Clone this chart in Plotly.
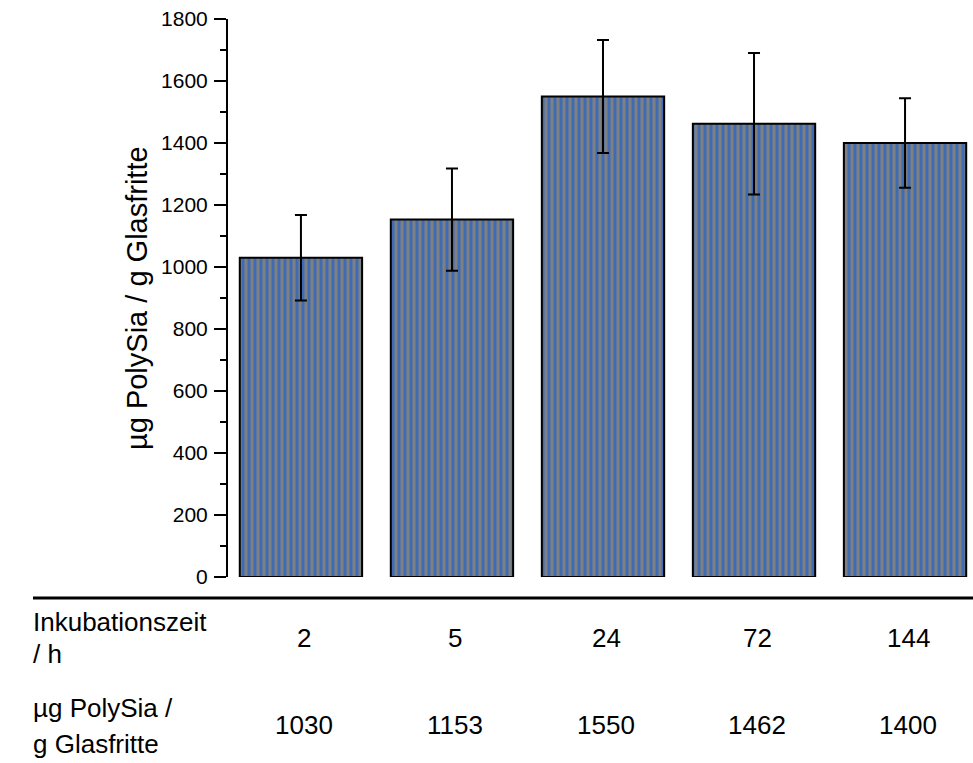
import plotly.graph_objects as go

categories = ["2", "5", "24", "72", "144"]
values = [1030, 1153, 1550, 1462, 1400]
errors = [138, 165, 182, 228, 144]
row1_lines = ["Inkubationszeit", "/ h"]
row2_lines = ["µg PolySia /", "g Glasfritte"]
y_title = "µg PolySia / g Glasfritte"
y_ticks = [0, 200, 400, 600, 800, 1000, 1200, 1400, 1600, 1800]

FONT = "Liberation Sans, Arial, Helvetica, sans-serif"
BLUE = "#3d6cb4"
GRAY = "#808080"

fig = go.Figure()
fig.add_trace(go.Bar(
    x=categories, y=values, width=0.81,
    marker=dict(color=GRAY, line=dict(color="black", width=2),
                pattern=dict(shape="|", fgcolor=BLUE, bgcolor=GRAY, size=6, solidity=0.5, fillmode="replace")),
    error_y=dict(type="data", array=errors, visible=True, color="black", thickness=2, width=6),
    showlegend=False,
))

L, R, T, B = 228, 0, 19, 186
W, H = 973, 763
pw = W - L - R
ph = H - T - B

def py2paper(py):
    return (H - B - py) / ph

def px2paper(px):
    return (px - L) / pw

TFS = 26
annotations = []
for txt, py in zip(row1_lines + row2_lines, [622, 654, 708, 744]):
    annotations.append(dict(text=txt, xref="paper", yref="paper", x=px2paper(31), y=py2paper(py),
                            xanchor="left", yanchor="middle", align="left", showarrow=False,
                            font=dict(size=TFS, color="black", family=FONT)))
for i, (c, v) in enumerate(zip(categories, values)):
    annotations.append(dict(text=c, xref="x", yref="paper", x=i + 0.02, y=py2paper(638),
                            xanchor="center", yanchor="middle", showarrow=False,
                            font=dict(size=TFS, color="black", family=FONT)))
    annotations.append(dict(text=str(v), xref="x", yref="paper", x=i + 0.02, y=py2paper(725),
                            xanchor="center", yanchor="middle", showarrow=False,
                            font=dict(size=TFS, color="black", family=FONT)))
annotations.append(dict(text=y_title, xref="paper", yref="paper", x=px2paper(137), y=py2paper(298),
                        xanchor="center", yanchor="middle", textangle=-90, showarrow=False,
                        font=dict(size=29, color="black", family=FONT)))

fig.update_layout(
    width=W, height=H,
    margin=dict(l=L, r=R, t=T, b=B, pad=0),
    paper_bgcolor="white", plot_bgcolor="white",
    font=dict(family=FONT, size=21, color="black"),
    annotations=annotations,
    shapes=[dict(type="line", xref="paper", yref="paper", x0=px2paper(33), x1=1.0,
                 y0=py2paper(598), y1=py2paper(598), line=dict(color="black", width=3))],
)
fig.update_xaxes(type="category", range=[-0.483, 4.45], showticklabels=False, showline=False,
                 showgrid=False, zeroline=False, ticks="")
fig.update_yaxes(range=[0, 1800], tickvals=y_ticks, ticks="outside", ticklen=12, tickwidth=2,
                 tickcolor="black", showline=True, linecolor="black", linewidth=2,
                 showgrid=False, zeroline=False, ticklabelstandoff=2,
                 tickfont=dict(size=21, family=FONT, color="black"),
                 minor=dict(dtick=100, ticks="outside", ticklen=6, tickwidth=2, tickcolor="black"))

fig.write_html("out.html", config={"displayModeBar": False},
               post_script="document.body.style.margin='0px';document.body.style.overflow='hidden';")
